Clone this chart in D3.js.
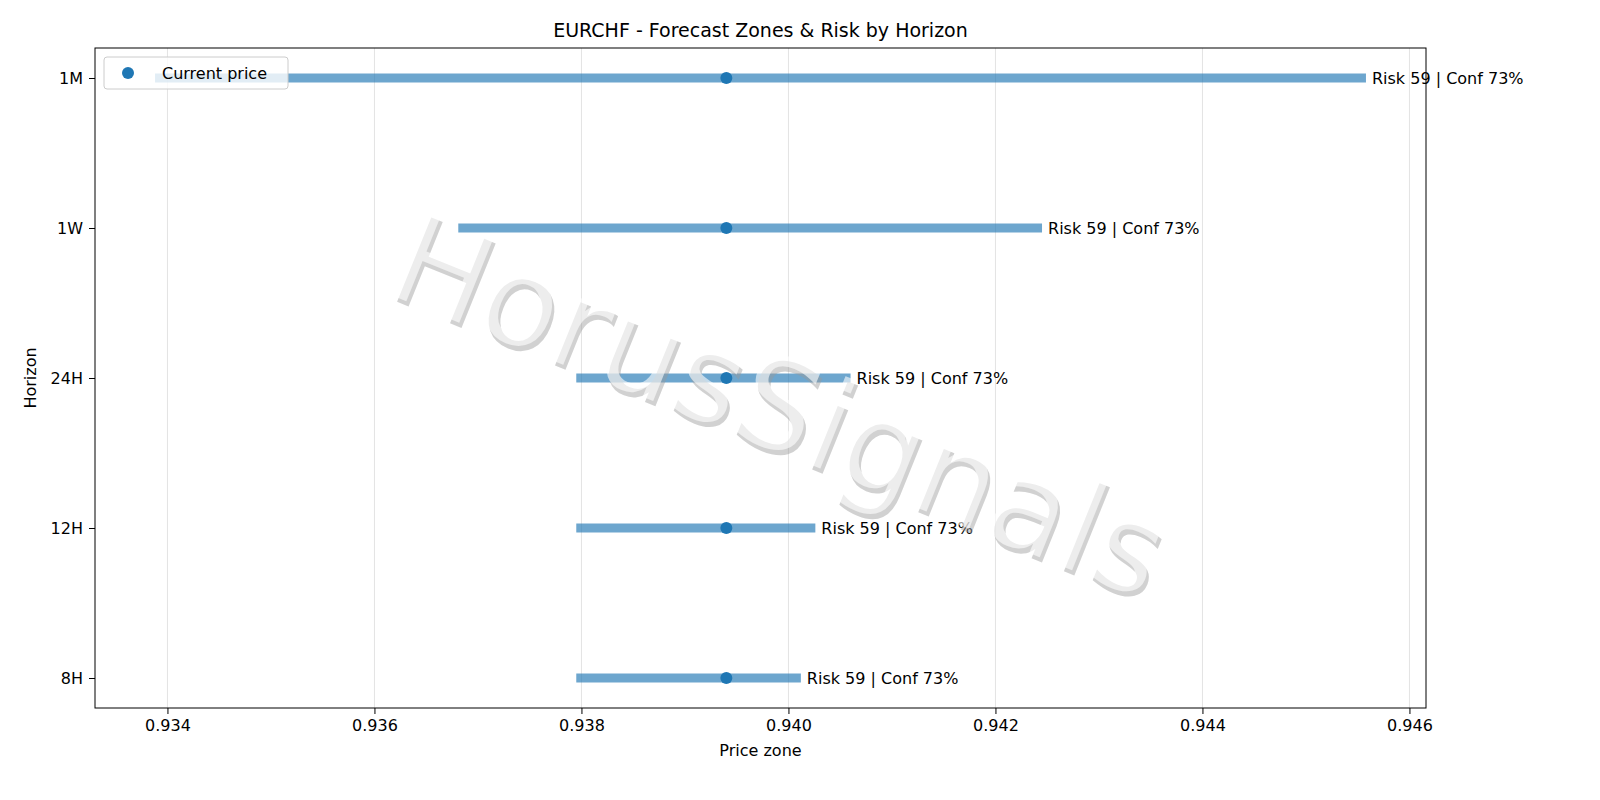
<!DOCTYPE html>
<html><head><meta charset="utf-8">
<script src="https://cdn.jsdelivr.net/npm/d3@7"></script>
<style>html,body{margin:0;padding:0;overflow:hidden;background:#fff}svg{display:block}text{font-family:"DejaVu Sans",sans-serif}</style>
</head><body><div id="chart"></div>
<script>
var horizons = ['8H', '12H', '24H', '1W', '1M'];
var zoneLow = [0.93795, 0.93795, 0.93795, 0.93681, 0.93388];
var zoneHigh = [0.94012, 0.94026, 0.94060, 0.94245, 0.94558];
var currentPrice = 0.93940;
var risk = [59, 59, 59, 59, 59];
var conf = [73, 73, 73, 73, 73];
var xTicks = [0.934, 0.936, 0.938, 0.940, 0.942, 0.944, 0.946];

var W = 1600, H = 800;
var m = {l: 95, r: 174, t: 48, b: 92};
var svg = d3.select('#chart').append('svg').attr('width', W).attr('height', H);

var x = d3.scaleLinear().domain([0.93330, 0.94616]).range([m.l, W - m.r]);
var y = d3.scalePoint().domain(horizons).range([H - m.b, m.t]).padding(0.2);

// grid
svg.append('g').selectAll('line').data(xTicks).enter().append('line')
  .attr('x1', d => x(d)).attr('x2', d => x(d))
  .attr('y1', m.t).attr('y2', H - m.b)
  .attr('stroke', '#e3e3e3').attr('stroke-width', 1);

// zones
svg.append('g').selectAll('line').data(horizons).enter().append('line')
  .attr('x1', (d, i) => x(zoneLow[i])).attr('x2', (d, i) => x(zoneHigh[i]))
  .attr('y1', d => y(d)).attr('y2', d => y(d))
  .attr('stroke', '#1f77b4').attr('stroke-opacity', 0.65).attr('stroke-width', 9);

svg.append('g').selectAll('circle').data(horizons).enter().append('circle')
  .attr('cx', x(currentPrice)).attr('cy', d => y(d)).attr('r', 6).attr('fill', '#1f77b4');

svg.append('g').selectAll('text').data(horizons).enter().append('text')
  .attr('x', (d, i) => x(zoneHigh[i]) + 6).attr('y', d => y(d)).attr('dy', '0.35em')
  .attr('font-size', 16).text((d, i) => 'Risk ' + risk[i] + ' | Conf ' + conf[i] + '%');

// watermark
var wm = svg.append('g').attr('transform', 'translate(780,405) rotate(22)');
wm.append('text').attr('x', 4).attr('y', 4).attr('text-anchor', 'middle').attr('dy', '0.35em')
  .attr('font-size', 125).attr('textLength', 820).attr('lengthAdjust', 'spacing')
  .attr('fill', '#999').attr('fill-opacity', 0.45).text('HorusSignals');
wm.append('text').attr('text-anchor', 'middle').attr('dy', '0.35em')
  .attr('font-size', 125).attr('textLength', 820).attr('lengthAdjust', 'spacing')
  .attr('fill', '#fff').attr('fill-opacity', 0.6).text('HorusSignals');

// frame and axes
svg.append('rect').attr('x', m.l).attr('y', m.t).attr('width', W - m.l - m.r).attr('height', H - m.t - m.b)
  .attr('fill', 'none').attr('stroke', '#000');
svg.append('g').attr('transform', 'translate(0,' + (H - m.b) + ')')
  .call(d3.axisBottom(x).tickValues(xTicks).tickFormat(d3.format('.3f')).tickSizeOuter(0).tickSize(6).tickPadding(6))
  .call(g => g.select('.domain').remove())
  .selectAll('text').attr('font-size', 16);
svg.append('g').attr('transform', 'translate(' + m.l + ',0)')
  .call(d3.axisLeft(y).tickSizeOuter(0).tickSize(6).tickPadding(6))
  .call(g => g.select('.domain').remove())
  .selectAll('text').attr('font-size', 16);

svg.append('text').attr('x', (m.l + W - m.r) / 2).attr('y', 37).attr('text-anchor', 'middle')
  .attr('font-size', 19).text('EURCHF - Forecast Zones & Risk by Horizon');
svg.append('text').attr('x', (m.l + W - m.r) / 2).attr('y', 756).attr('text-anchor', 'middle')
  .attr('font-size', 16).text('Price zone');
svg.append('text').attr('transform', 'translate(36,' + ((m.t + H - m.b) / 2) + ') rotate(-90)')
  .attr('text-anchor', 'middle').attr('font-size', 16).text('Horizon');

// legend
var lg = svg.append('g').attr('transform', 'translate(104,57)');
lg.append('rect').attr('width', 184).attr('height', 32).attr('rx', 3)
  .attr('fill', '#fff').attr('fill-opacity', 0.8).attr('stroke', '#ccc');
lg.append('circle').attr('cx', 24).attr('cy', 16).attr('r', 6).attr('fill', '#1f77b4');
lg.append('text').attr('x', 58).attr('y', 16).attr('dy', '0.35em').attr('font-size', 16).text('Current price');
</script></body></html>
